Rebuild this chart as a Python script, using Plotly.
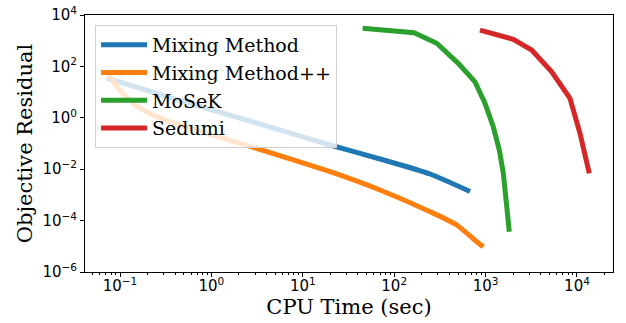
import plotly.graph_objects as go

# Data
mm_time = [0.0714, 0.453, 3.40, 19.9, 70.0, 247, 675]
mm_res = [35.4, 4.71, 0.574, 0.0875, 0.0249, 0.0065, 0.00136]

mmpp_time = [0.0745, 0.0881, 0.1135, 0.1656, 0.274, 0.453, 2.06, 19.9, 70.0, 247, 483, 800, 944]
mmpp_res = [46.2, 20.7, 7.05, 2.40, 0.98, 0.525, 0.102, 0.0080, 0.00155, 2.22e-4, 6.75e-5, 1.51e-5, 9.6e-6]

mosek_time = [45.2, 165, 292, 502, 766, 985, 1213, 1413, 1563, 1702, 1816]
mosek_res = [3030, 2040, 794, 132, 25, 3.66, 0.45, 0.0558, 0.0069, 0.00047, 3.7e-5]

sedumi_time = [868, 2010, 3190, 5290, 8380, 10780, 13640]
sedumi_res = [2600, 1133, 435, 62, 5.74, 0.25, 0.0069]

names = ["Mixing Method", "Mixing Method++", "MoSeK", "Sedumi"]
colors = ["#1f77b4", "#ff7f0e", "#2ca02c", "#d62728"]
shapes = ["spline", "spline", "linear", "linear"]

x_tickvals = [0.1, 1, 10, 100, 1000, 10000]
x_ticktext = ["10<sup>−1</sup>", "10<sup>0</sup>", "10<sup>1</sup>", "10<sup>2</sup>", "10<sup>3</sup>", "10<sup>4</sup>"]
y_tickvals = [1e-6, 1e-4, 1e-2, 1, 1e2, 1e4]
y_ticktext = ["10<sup>−6</sup>", "10<sup>−4</sup>", "10<sup>−2</sup>", "10<sup>0</sup>", "10<sup>2</sup>", "10<sup>4</sup>"]

series = [(mm_time, mm_res), (mmpp_time, mmpp_res), (mosek_time, mosek_res), (sedumi_time, sedumi_res)]

fig = go.Figure()
for (t, r), n, c, s in zip(series, names, colors, shapes):
    fig.add_trace(go.Scatter(x=t, y=r, mode="lines", name=n,
                             line=dict(color=c, width=5, shape=s, smoothing=0.6)))

serif = "DejaVu Serif"
sans = "DejaVu Sans"

fig.update_layout(
    width=626, height=323,
    margin=dict(l=85, r=13, t=15, b=51),
    paper_bgcolor="white", plot_bgcolor="white",
    showlegend=True,
    legend=dict(x=0.019, y=0.961, xanchor="left", yanchor="top",
                bgcolor="rgba(255,255,255,0.8)", bordercolor="#d0d0d0", borderwidth=1,
                font=dict(family=serif, size=19, color="black"),
                itemwidth=46, tracegroupgap=0),
    xaxis=dict(type="log", range=[-1.383, 4.394], tickvals=x_tickvals, ticktext=x_ticktext,
               showgrid=False, zeroline=False, automargin=False,
               showline=True, linecolor="black", linewidth=1, mirror=True,
               ticks="outside", ticklen=4, tickcolor="black",
               minor=dict(ticks="outside", ticklen=2, tickcolor="black", dtick="D1", showgrid=False),
               tickfont=dict(family=sans, size=15, color="black"),
               ticklabelstandoff=-4,
               title=dict(text="CPU Time (sec)", font=dict(family=serif, size=21, color="black"), standoff=2)),
    yaxis=dict(type="log", range=[-6, 4], tickvals=y_tickvals, ticktext=y_ticktext,
               showgrid=False, zeroline=False, automargin=False,
               showline=True, linecolor="black", linewidth=1, mirror=True,
               ticks="outside", ticklen=4, tickcolor="black",
               tickfont=dict(family=sans, size=15, color="black"),
               title=dict(text="Objective Residual", font=dict(family=serif, size=21, color="black"), standoff=4)),
)

fig.write_html("out.html", config={"displayModeBar": False},
               post_script="document.body.style.margin='0';document.body.style.overflow='hidden';")
